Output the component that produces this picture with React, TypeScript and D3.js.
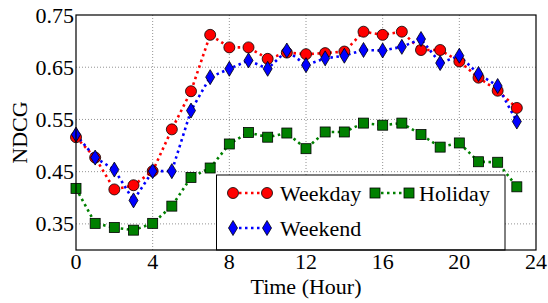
import React from 'react';
import * as d3 from 'd3';

const hours = d3.range(0, 24);
const weekday = [0.516, 0.477, 0.416, 0.424, 0.451, 0.531, 0.604, 0.712, 0.688, 0.688, 0.666, 0.678,
  0.675, 0.677, 0.680, 0.718, 0.712, 0.718, 0.683, 0.683, 0.661, 0.630, 0.605, 0.572];
const weekend = [0.521, 0.477, 0.454, 0.395, 0.451, 0.451, 0.567, 0.631, 0.647, 0.663, 0.647, 0.682,
  0.654, 0.667, 0.672, 0.683, 0.682, 0.689, 0.704, 0.658, 0.672, 0.637, 0.614, 0.546];
const holiday = [0.418, 0.351, 0.343, 0.338, 0.351, 0.384, 0.439, 0.457, 0.503, 0.525, 0.516, 0.524,
  0.494, 0.526, 0.526, 0.543, 0.539, 0.543, 0.521, 0.497, 0.505, 0.469, 0.468, 0.421];
const xTicks = [0, 4, 8, 12, 16, 20, 24];
const yTicks = [0.35, 0.45, 0.55, 0.65, 0.75];

const W = 548, H = 303;
const m = { left: 76, right: 536, top: 15, bottom: 250 };
const FONT = "'Liberation Serif', 'Times New Roman', serif";
const FS = 22;

// marker shapes
const Marker = ({ kind, x, y }: { kind: string; x: number; y: number }) => {
  if (kind === 'circle')
    return <circle cx={x} cy={y} r={5.5} fill="#ff0000" stroke="#000" strokeWidth={0.8} />;
  if (kind === 'square')
    return <rect x={x - 5} y={y - 5} width={10} height={10} fill="#008000" stroke="#000" strokeWidth={0.8} />;
  return <path d={`M${x},${y - 7.5}L${x + 4.5},${y}L${x},${y + 7.5}L${x - 4.5},${y}Z`} fill="#0000ff" stroke="#000" strokeWidth={0.8} />;
};

const series = [
  { name: 'Holiday', values: holiday, color: '#008000', kind: 'square' },
  { name: 'Weekday', values: weekday, color: '#ff0000', kind: 'circle' },
  { name: 'Weekend', values: weekend, color: '#0000ff', kind: 'diamond' },
];

export default function App() {
  const x = d3.scaleLinear().domain([0, 24]).range([m.left, m.right]);
  const y = d3.scaleLinear().domain([0.3, 0.75]).range([m.bottom, m.top]);
  const line = d3.line<number>().x((_, i) => x(hours[i])).y(d => y(d));

  const legendItems = [
    { s: series[1], lx: 233, ly: 193, tx: 280 },
    { s: series[0], lx: 375, ly: 193, tx: 419 },
    { s: series[2], lx: 233, ly: 228, tx: 280 },
  ];

  return (
    <svg width={W} height={H}
      style={{ position: 'absolute', left: 0, top: 0, background: '#fff', fontFamily: FONT }}>
      {/* grid */}
      {xTicks.slice(1, -1).map(t => (
        <line key={'gx' + t} x1={x(t)} x2={x(t)} y1={m.top} y2={m.bottom}
          stroke="#777" strokeWidth={0.8} strokeDasharray="1,2" />
      ))}
      {yTicks.slice(0, -1).map(t => (
        <line key={'gy' + t} x1={m.left} x2={m.right} y1={y(t)} y2={y(t)}
          stroke="#777" strokeWidth={0.8} strokeDasharray="1,2" />
      ))}

      {/* lines + markers */}
      {series.map(s => (
        <path key={s.name} d={line(s.values) || ''} fill="none" stroke={s.color} strokeWidth={2.6}
          strokeDasharray="2.5,3.5" />
      ))}
      {series.map(s => (
        <g key={s.name + 'm'}>
          {s.values.map((v, i) => <Marker key={i} kind={s.kind} x={x(hours[i])} y={y(v)} />)}
        </g>
      ))}

      {/* legend */}
      <rect x={216.5} y={175} width={288.5} height={75} fill="#fff" stroke="#000" strokeWidth={1} />
      {legendItems.map(({ s, lx, ly, tx }) => (
        <g key={'lg' + s.name}>
          <line x1={lx} x2={lx + 34} y1={ly} y2={ly} stroke={s.color} strokeWidth={2.6} strokeDasharray="2.5,3.5" />
          <Marker kind={s.kind} x={lx} y={ly} />
          <Marker kind={s.kind} x={lx + 34} y={ly} />
          <text x={tx} y={ly + 7.5} fontSize={FS} fontFamily={FONT}>{s.name}</text>
        </g>
      ))}

      {/* frame */}
      <rect x={m.left} y={m.top} width={m.right - m.left} height={m.bottom - m.top}
        fill="none" stroke="#000" strokeWidth={1.2} />

      {/* ticks */}
      {xTicks.map(t => (
        <text key={'xt' + t} x={x(t)} y={269} fontSize={FS} fontFamily={FONT}
          textAnchor="middle">{t}</text>
      ))}
      {yTicks.map(t => (
        <text key={'yt' + t} x={m.left - 2} y={y(t) + 7.5} fontSize={FS} fontFamily={FONT}
          textAnchor="end">{t.toFixed(2)}</text>
      ))}
      <text x={(m.left + m.right) / 2} y={294} fontSize={FS} fontFamily={FONT}
        textAnchor="middle">Time (Hour)</text>
      <text transform={`translate(27,${(m.top + m.bottom) / 2}) rotate(-90)`} fontSize={FS}
        fontFamily={FONT} textAnchor="middle">NDCG</text>
    </svg>
  );
}
